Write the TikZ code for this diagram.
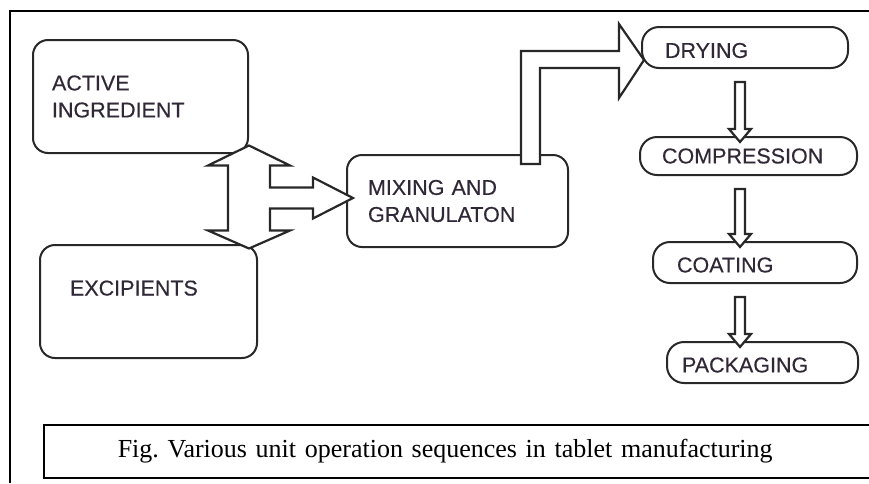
\documentclass[tikz,border=0pt]{standalone}
\usepackage{fontspec}
\setmainfont{Liberation Serif}
\newfontfamily\flowfont[FakeBold=0.4]{Liberation Sans}
\usepackage{tikz}
\usetikzlibrary{positioning, calc, shapes.misc}
\definecolor{edgegray}{RGB}{40,40,40}
\definecolor{labelink}{RGB}{48,40,54}
\frenchspacing

\begin{document}
\begin{tikzpicture}[x=1pt, y=-1pt, line width=2pt,
				Stage/.style={
				draw=edgegray,
				rounded corners=15pt,
				align=left,
				inner ysep=0pt,
				text=labelink,
				font=\flowfont\fontsize{21.5}{27}\selectfont
				},
				Unit/.style={Stage, rounded corners=17pt, minimum height=41pt},
				Hollow/.style={draw=edgegray, fill=white, line width=2.2pt, line join=miter}]
				\useasboundingbox (0,0) rectangle (869,483);
				\draw[line width=1.5pt, black] (10,483) -- (10,11) -- (869,11);
				% Stages
				\node[Stage, minimum height=113pt, text width=177pt, inner xsep=19pt] (act) at (140.5,96.5) {ACTIVE\\INGREDIENT};
				\node[Stage, minimum height=113pt, text width=157pt, inner xsep=30pt, text depth=27pt] (exc) at (148.5,301.5) {EXCIPIENTS};
				\node[Stage, minimum height=92pt, text width=179pt, inner xsep=21pt] (mix) at (457.5,201) {MIXING AND\\GRANULATON};
				\node[Unit, text width=160pt, inner xsep=23pt, text height=21pt] (dry) at (745,47.5) {DRYING};
				\node[Unit, minimum height=38pt, text width=173pt, inner xsep=22pt] (comp) at (748.5,156) {COMPRESSION};
				\node[Unit, text width=156pt, inner xsep=24pt, text height=20pt] (coat) at (755,262.5) {COATING};
				\node[Unit, text width=161pt, inner xsep=15pt, text height=20pt] (pack) at (762.5,362.5) {PACKAGING};
				% Block arrows
				\path (act.south east) ++(0,44) coordinate (split);
				\draw[Hollow, shift={(split)}] (0,-52.5) -- (41,-32.5) -- (21,-32.5) -- (21,-10.5) -- (64,-10.5) -- (64,-20.5) -- (104,0) -- (64,20.5) -- (64,10.5) -- (21,10.5) -- (21,32.5) -- (41,32.5) -- (0,50.5) -- (-41,32.5) -- (-21,32.5) -- (-21,-32.5) -- (-41,-32.5) -- cycle;
				\path (mix.north west) ++(175,10) coordinate (lift);
				\draw[Hollow, shift={(lift)}] (0,0) -- (0,-113) -- (98,-113) -- (98,-140) -- (123,-104) -- (98,-66) -- (98,-96) -- (19,-96) -- (19,0) -- cycle;
				\coordinate (lane) at (740,0);
				\foreach \from/\to in {dry/comp, comp/coat, coat/pack}
				\draw[Hollow] ($(lane |- \from.south)+(-5,13)$) -- ($(lane |- \to.north)+(-5,-7)$) -- ++(-6,0) -- ($(lane |- \to.north)+(0,6)$) -- ($(lane |- \to.north)+(11,-7)$) -- ++(-6,0) -- ($(lane |- \from.south)+(5,13)$) -- cycle;
				% Caption
				\node[draw, line width=1.5pt, anchor=west, minimum height=53pt, text width=700pt, inner xsep=74pt, align=left, font=\fontsize{26}{30}\selectfont] (cap) at (43,451.5) {Fig. Various unit operation sequences in tablet manufacturing};
			\end{tikzpicture}
\end{document}
